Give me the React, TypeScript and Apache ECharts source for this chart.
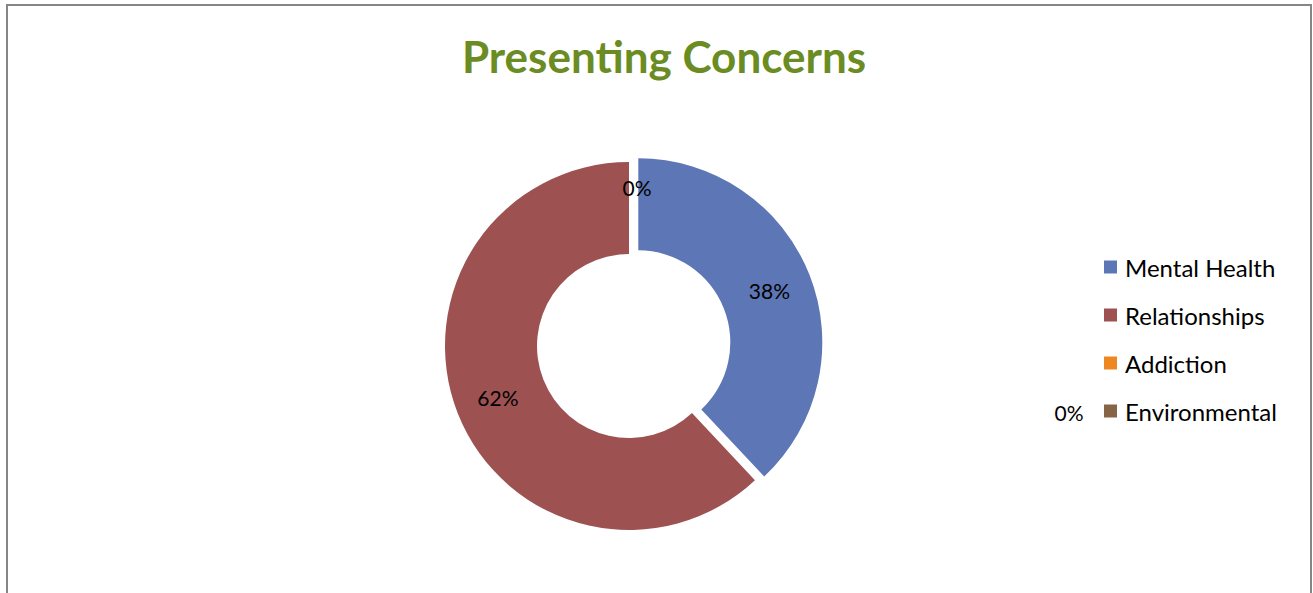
import React, { useEffect, useRef } from "react";
import * as echarts from "echarts";

const categories = ["Mental Health", "Relationships", "Addiction", "Environmental"];
const values = [38, 62, 0, 0];
const colors = ["#5D76B5", "#9D5151", "#EE8622", "#866446"];
const titleText = "Presenting Concerns";

export default function App() {
  const ref = useRef<HTMLDivElement>(null);
  useEffect(() => {
    document.body.style.margin = "0";
    const chart = echarts.init(ref.current!, undefined, { renderer: "svg" });
    const data = categories.map((name, i) => {
      const item: any = { name, value: values[i], itemStyle: { color: colors[i] } };
      if (i === 0) {
        item.selected = true;
      }
      if (i === 2) {
        item.label = { offset: [8, -18] };
      }
      if (i === 3) {
        item.label = { show: false };
      }
      return item;
    });
    chart.setOption({
      animation: false,
      backgroundColor: "#ffffff",
      title: {
        text: titleText,
        left: 659,
        top: 29,
        textAlign: "center",
        textStyle: {
          fontFamily: "Lato",
          fontWeight: "bold",
          fontSize: 44,
          color: "#6A8C23",
        },
      },
      legend: {
        orient: "vertical",
        left: 1104,
        top: 255,
        padding: 0,
        itemWidth: 13,
        itemHeight: 13,
        itemGap: 24,
        icon: "rect",
        data: categories,
        textStyle: {
          fontFamily: "Lato",
          fontSize: 24,
          lineHeight: 24,
          color: "#000000",
          padding: [0, 0, 0, 3],
        },
        selectedMode: false,
      },
      graphic: [
        {
          type: "rect",
          shape: { x: 7, y: 5, width: 1304, height: 700 },
          style: { fill: "none", stroke: "#868686", lineWidth: 2 },
          silent: true,
        },
        {
          type: "text",
          x: 1069,
          y: 412,
          style: {
            text: "0%",
            fontFamily: "Lato",
            fontSize: 21,
            fill: "#000000",
            align: "center",
            verticalAlign: "middle",
          },
        },
      ],
      series: [
        {
          type: "pie",
          center: [629, 346],
          radius: [92, 184],
          startAngle: 90,
          clockwise: true,
          selectedMode: "single",
          selectedOffset: 10,
          avoidLabelOverlap: false,
          label: {
            show: true,
            position: "inside",
            fontFamily: "Lato",
            fontSize: 21,
            color: "#000000",
            formatter: (p: any) => Math.round(p.percent) + "%",
          },
          labelLine: { show: false },
          emphasis: { disabled: true },
          data,
        },
      ],
    });
    return () => chart.dispose();
  }, []);
  return <div ref={ref} style={{ width: 1313, height: 593 }} />;
}
